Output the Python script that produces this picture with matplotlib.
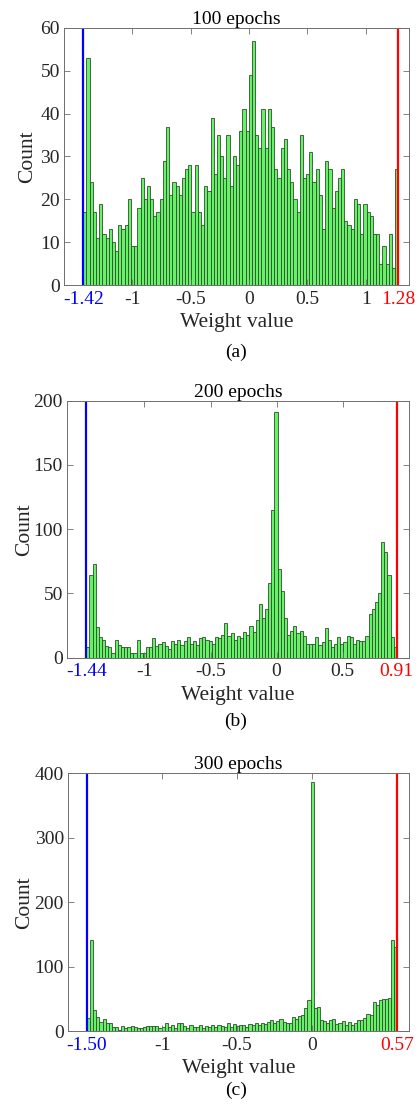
import numpy as np
import matplotlib
matplotlib.use("Agg")
from matplotlib import pyplot as plt

plt.rcParams['font.family'] = ['Liberation Serif', 'DejaVu Serif']
plt.rcParams['axes.unicode_minus'] = False

# ---- data (counts per bin, left to right) ----
titles = ["100 epochs", "200 epochs", "300 epochs"]
captions = ["(a)", "(b)", "(c)"]

w_min = [-1.42, -1.44, -1.50]
w_max = [1.28, 0.91, 0.57]

counts_100 = [17, 53, 24, 17, 11, 19, 12, 11, 13, 10, 8, 14, 13, 14, 20, 9, 9, 18, 25, 20,
              23, 20, 16, 17, 20, 29, 37, 21, 24, 23, 21, 25, 27, 28, 17, 28, 17, 14, 23, 22,
              39, 26, 35, 30, 25, 35, 23, 30, 28, 36, 41, 36, 49, 57, 35, 32, 41, 32, 41, 37,
              27, 25, 32, 34, 27, 24, 20, 17, 35, 25, 26, 31, 24, 27, 21, 13, 29, 27, 18, 22,
              25, 27, 15, 14, 13, 20, 19, 12, 19, 17, 16, 12, 12, 5, 9, 5, 12, 4, 27]

counts_200 = [8, 64, 73, 24, 16, 14, 9, 8, 4, 14, 10, 8, 8, 8, 4, 4, 14, 4, 4, 8,
              8, 15, 9, 11, 12, 9, 7, 13, 11, 14, 10, 13, 16, 11, 13, 10, 15, 16, 14, 13,
              11, 16, 15, 18, 27, 17, 19, 14, 17, 15, 20, 18, 25, 20, 29, 42, 31, 38, 58, 115,
              191, 69, 52, 31, 18, 21, 25, 19, 21, 17, 11, 11, 11, 16, 10, 12, 23, 14, 8, 11,
              16, 11, 12, 17, 16, 11, 14, 13, 13, 17, 34, 38, 43, 50, 90, 82, 64, 16, 8]

counts_300 = [21, 141, 32, 22, 14, 18, 13, 13, 7, 7, 2, 8, 4, 7, 8, 7, 4, 5, 7, 8,
              8, 8, 8, 5, 7, 12, 7, 10, 4, 12, 12, 8, 5, 9, 6, 7, 10, 4, 8, 7,
              9, 6, 10, 8, 7, 12, 6, 11, 8, 9, 10, 7, 11, 9, 12, 10, 13, 11, 14, 17,
              12, 15, 18, 14, 12, 12, 22, 18, 23, 25, 35, 48, 386, 36, 37, 17, 16, 12, 17, 18,
              11, 12, 16, 9, 14, 9, 12, 17, 17, 20, 26, 25, 45, 40, 48, 50, 50, 52, 141, 131]

all_counts = [counts_100, counts_200, counts_300]

x_ticks = [[-1, -0.5, 0, 0.5, 1], [-1, -0.5, 0, 0.5], [-1, -0.5, 0]]
x_lims = [(-1.585, 1.371), (-1.586, 1.002), (-1.627, 0.647)]
y_ticks = [np.arange(0, 61, 10), np.arange(0, 201, 50), np.arange(0, 401, 100)]

# axes boxes in figure fractions [left, bottom, width, height]
boxes = [[0.1527, 0.7453, 0.8234, 0.2297],
         [0.1600, 0.4122, 0.8160, 0.2297],
         [0.1623, 0.0786, 0.8138, 0.2303]]
ylabel_x = [-0.078, -0.097, -0.100]
caption_y = [0.6854, 0.3555, 0.0255]

fig = plt.figure(figsize=(4.19, 11.19), dpi=100)

for i in range(3):
    ax = fig.add_axes(boxes[i])
    c = np.array(all_counts[i])
    edges = np.linspace(w_min[i], w_max[i], len(c) + 1)
    ax.bar(edges[:-1], c, width=np.diff(edges), align='edge',
           facecolor='#66f266', edgecolor='#2f4f2f', linewidth=0.6)
    ax.axvline(w_min[i], color='#0000ff', linewidth=1.6)
    ax.axvline(w_max[i], color='#ff0000', linewidth=1.6)

    ax.set_xlim(x_lims[i])
    ax.set_ylim(y_ticks[i][0], y_ticks[i][-1])
    ax.set_yticks(y_ticks[i])

    ticks = [w_min[i]] + x_ticks[i] + [w_max[i]]
    labels = ['%.2f' % w_min[i]] + ['%g' % t for t in x_ticks[i]] + ['%.2f' % w_max[i]]
    ax.set_xticks(ticks)
    ax.set_xticklabels(labels)

    ax.tick_params(direction='in', top=True, right=True, length=4, width=0.6,
                   color='#6e6e6e', labelsize=14, labelcolor='#262626', pad=4)
    ax.tick_params(axis='y', pad=3)
    tl = ax.get_xticklabels()
    tl[0].set_color('#0000ff')
    tl[-1].set_color('#ff0000')
    for s in ax.spines.values():
        s.set_color('#6e6e6e')
        s.set_linewidth(0.7)

    ax.set_title(titles[i], fontsize=14, color='#000000', pad=3)
    ax.set_xlabel('Weight value', fontsize=15.5, color='#262626', labelpad=4)
    ax.set_ylabel('Count', fontsize=15.5, color='#262626')
    ax.yaxis.set_label_coords(ylabel_x[i], 0.5)
    fig.text(0.563, caption_y[i], captions[i], fontsize=14, ha='center', va='center')

fig.savefig('out.png', dpi=100)
